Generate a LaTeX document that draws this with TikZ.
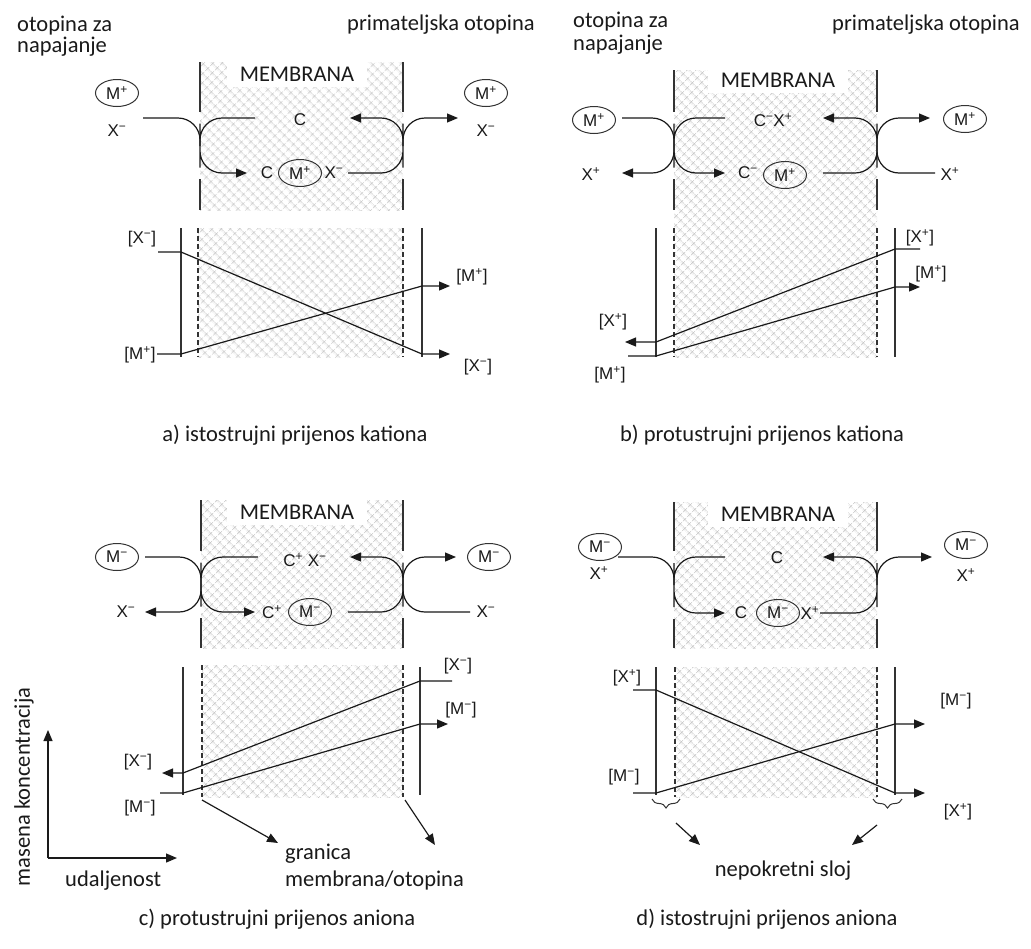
\documentclass[tikz,border=0pt]{standalone}
\usepackage{fontspec}
\setmainfont{Carlito}
\newfontfamily\chemfont{Liberation Sans}
\usetikzlibrary{arrows.meta,patterns.meta,decorations.pathreplacing,shapes.geometric}
\definecolor{color0}{HTML}{1A1A1A}
\definecolor{lineColor}{HTML}{333333}
\definecolor{hatchColor}{HTML}{BDBDBD}
\definecolor{bgColor}{HTML}{FFFFFF}

\begin{document}
\begin{tikzpicture}[x=1pt,y=-1pt]
\tikzset{
  lbl/.style={font=\fontsize{22.5}{24}\selectfont, inner sep=0pt, color=color0},
  chem/.style={font=\chemfont\fontsize{17}{17}\selectfont, inner sep=0pt, color=color0},
  ion/.style={chem, ellipse, draw=lineColor, line width=1pt, minimum width=43pt, minimum height=27pt},
  memlbl/.style={lbl, fill=bgColor, minimum width=140pt, minimum height=25pt},
  flow/.style={line width=1.2pt, draw=color0, rounded corners=22pt},
  conc/.style={line width=1.2pt, draw=color0},
  arrowed/.style={-{Triangle[length=11pt,width=9pt]}},
  wall/.style={line width=1.3pt, draw=lineColor},
  bound/.style={line width=1.2pt, draw=lineColor, dash pattern=on 5pt off 3pt},
  hatch/.style={pattern={Hatch[angle=45,distance=6.5pt,line width=0.6pt]}, pattern color=hatchColor},
  lbrace/.style={decorate, decoration={brace,mirror,amplitude=9pt}, line width=1pt, draw=lineColor}
}
\useasboundingbox (0,0) rectangle (1031,948);
\fill[bgColor] (0,0) rectangle (1031,948);

% ---------- a) istostrujni prijenos kationa
\node[lbl, anchor=base west] (feedA) at (17,31) {otopina za};
\node[lbl, anchor=base west] (feedAb) at (17,52) {napajanje};
\node[lbl, anchor=base west] (recvA) at (347,30) {primateljska otopina};
\fill[hatch] (200,62) rectangle (403,210);
\node[memlbl] (memA) at (297,74.5) {MEMBRANA};
\draw[wall] (200,62) -- (200,112) (200,179) -- (200,210);
\draw[wall] (403,62) -- (403,112) (403,179) -- (403,210);
\node[ion] (mA1) at (117,93) {M\textsuperscript{+}};
\node[chem] (xA1) at (117,131) {X\textsuperscript{−}};
\node[chem] (cA1) at (300,120) {C};
\node[chem] (cA2) at (267,173) {C};
\node[ion] (mA2) at (300,173) {M\textsuperscript{+}};
\node[chem] (xA2) at (334,173) {X\textsuperscript{−}};
\node[ion] (mA3) at (486,93) {M\textsuperscript{+}};
\node[chem] (xA3) at (486,131) {X\textsuperscript{−}};
\draw[flow] (143,118) -| (200,146);
\draw[flow, arrowed] (255,118) -| (200,145.5) |- (247,173);
\draw[flow, arrowed] (348,173) -| (403,145.5) |- (350,118);
\draw[flow, arrowed] (403,146) |- (458,118);
\fill[hatch] (198,228) rectangle (403,357);
\draw[wall] (181,228) -- (181,357) (422,228) -- (422,357);
\draw[bound] (198,228) -- (198,357) (403,228) -- (403,357);
\draw[conc, arrowed] (158,252) -- (181,252) -- (422,354) -- (450,354);
\draw[conc, arrowed] (157,354) -- (181,354) -- (422,286) -- (450,286);
\node[chem] (cxA1) at (142,239) {[X\textsuperscript{−}]};
\node[chem] (cmA1) at (140,355) {[M\textsuperscript{+}]};
\node[chem] (cmA2) at (472,277) {[M\textsuperscript{+}]};
\node[chem] (cxA2) at (478,367) {[X\textsuperscript{−}]};
\node[lbl, anchor=base] (capA) at (295,441) {a) istostrujni prijenos kationa};

% ---------- b) protustrujni prijenos kationa
\node[lbl, anchor=base west] (feedB) at (573,27) {otopina za};
\node[lbl, anchor=base west] (feedBb) at (573,50) {napajanje};
\node[lbl, anchor=base west] (recvB) at (832,30) {primateljska otopina};
\fill[hatch] (674,70) rectangle (877,357);
\node[memlbl] (memB) at (778,80) {MEMBRANA};
\draw[wall] (674,70) -- (674,112) (674,179) -- (674,210);
\draw[wall] (877,70) -- (877,112) (877,179) -- (877,210);
\node[ion] (mB1) at (594,120) {M\textsuperscript{+}};
\node[chem] (xB1) at (591,174) {X\textsuperscript{+}};
\node[chem] (cB1) at (773,120) {C\textsuperscript{−}X\textsuperscript{+}};
\node[chem] (cB2) at (748,173) {C\textsuperscript{−}};
\node[ion] (mB2) at (785,175) {M\textsuperscript{+}};
\node[ion] (mB3) at (965,119) {M\textsuperscript{+}};
\node[chem] (xB3) at (950,174) {X\textsuperscript{+}};
\draw[flow] (622,118) -| (674,146);
\draw[flow, arrowed] (674,146) |- (622,173);
\draw[flow, arrowed] (725,118) -| (674,145.5) |- (725,173);
\draw[flow, arrowed] (823,173) -| (877,145.5) |- (823,118);
\draw[flow, arrowed] (877,146) |- (930,118);
\draw[flow] (935,173) -| (877,146);
\draw[wall] (656,228) -- (656,357) (895,228) -- (895,357);
\draw[bound] (674,228) -- (674,357) (877,228) -- (877,357);
\draw[conc, arrowed] (920,249) -- (895,249) -- (656,342) -- (625,342);
\draw[conc, arrowed] (628,356) -- (656,356) -- (895,287) -- (920,287);
\node[chem] (cxB1) at (920,238) {[X\textsuperscript{+}]};
\node[chem] (cxB2) at (613,322) {[X\textsuperscript{+}]};
\node[chem] (cmB1) at (931,274) {[M\textsuperscript{+}]};
\node[chem] (cmB2) at (610,375) {[M\textsuperscript{+}]};
\node[lbl, anchor=base] (capB) at (762,441) {b) protustrujni prijenos kationa};

% ---------- c) protustrujni prijenos aniona
\fill[hatch] (201,500) rectangle (403,648);
\node[memlbl] (memC) at (297,512) {MEMBRANA};
\draw[wall] (201,500) -- (201,551) (201,618) -- (201,648);
\draw[wall] (403,500) -- (403,551) (403,618) -- (403,648);
\node[ion] (mC1) at (117,557) {M\textsuperscript{−}};
\node[chem] (xC1) at (126,612) {X\textsuperscript{−}};
\node[chem] (cC1) at (305,560) {C\textsuperscript{+} X\textsuperscript{−}};
\node[chem] (cC2) at (272,612) {C\textsuperscript{+}};
\node[ion] (mC2) at (310,612) {M\textsuperscript{−}};
\node[ion] (mC3) at (489,557) {M\textsuperscript{−}};
\node[chem] (xC3) at (486,612) {X\textsuperscript{−}};
\draw[flow] (145,557) -| (201,585);
\draw[flow, arrowed] (201,585) |- (145,612);
\draw[flow, arrowed] (258,557) -| (201,584.5) |- (255,612);
\draw[flow, arrowed] (348,612) -| (403,584.5) |- (350,557);
\draw[flow, arrowed] (403,585) |- (456,557);
\draw[flow] (470,612) -| (403,585);
\fill[hatch] (202,665) rectangle (403,797);
\draw[wall] (183,667) -- (183,795) (420,667) -- (420,795);
\draw[bound] (202,665) -- (202,797) (403,665) -- (403,797);
\draw[conc, arrowed] (452,681) -- (420,681) -- (183,773) -- (162,773);
\draw[conc, arrowed] (160,793) -- (183,793) -- (420,724) -- (448,724);
\node[chem] (cxC1) at (458,666) {[X\textsuperscript{−}]};
\node[chem] (cxC2) at (138,762) {[X\textsuperscript{−}]};
\node[chem] (cmC1) at (461,710) {[M\textsuperscript{−}]};
\node[chem] (cmC2) at (140,808) {[M\textsuperscript{−}]};
% os grafa
\coordinate (origin) at (48,858);
\coordinate (yend) at (48,730);
\coordinate (xend) at (177,858);
\draw[conc, arrowed] (origin) -- (yend);
\draw[conc, arrowed] (origin) -- (xend);
\node[lbl, rotate=90] (yaxis) at (24,787) {masena koncentracija};
\node[lbl, anchor=base west] (xaxis) at (65,886) {udaljenost};
\node[lbl, anchor=base west] (bndC) at (285,859) {granica};
\node[lbl, anchor=base west] (bndCb) at (285,886) {membrana/otopina};
\coordinate (bndL) at (202,800);
\coordinate (bndR) at (405,800);
\draw[conc, arrowed] (bndL) -- (278,843);
\draw[conc, arrowed] (bndR) -- (435,845);
\node[lbl, anchor=base] (capC) at (277,925) {c) protustrujni prijenos aniona};

% ---------- d) istostrujni prijenos aniona
\fill[hatch] (674,502) rectangle (877,648);
\node[memlbl] (memD) at (778,514) {MEMBRANA};
\draw[wall] (674,502) -- (674,551) (674,619) -- (674,648);
\draw[wall] (877,502) -- (877,551) (877,619) -- (877,648);
\node[ion] (mD1) at (600,547) {M\textsuperscript{−}};
\node[chem] (xD1) at (599,573) {X\textsuperscript{+}};
\node[chem] (cD1) at (777,558) {C};
\node[chem] (cD2) at (741,613) {C};
\node[ion] (mD2) at (778,613) {M\textsuperscript{−}};
\node[chem] (xD2) at (810,613) {X\textsuperscript{+}};
\node[ion] (mD3) at (966,545) {M\textsuperscript{−}};
\node[chem] (xD3) at (966,575) {X\textsuperscript{+}};
\draw[flow] (618,557) -| (674,585);
\draw[flow, arrowed] (725,557) -| (674,585) |- (725,613);
\draw[flow, arrowed] (820,613) -| (877,585) |- (823,557);
\draw[flow, arrowed] (877,585) |- (932,557);
\fill[hatch] (675,667) rectangle (877,797);
\draw[wall] (656,667) -- (656,795) (895,667) -- (895,795);
\draw[bound] (675,667) -- (675,797) (877,667) -- (877,797);
\draw[conc, arrowed] (633,690) -- (656,690) -- (895,793) -- (925,793);
\draw[conc, arrowed] (633,793) -- (656,793) -- (895,724) -- (925,724);
\node[chem] (cxD1) at (627,678) {[X\textsuperscript{+}]};
\node[chem] (cxD2) at (958,812) {[X\textsuperscript{+}]};
\node[chem] (cmD1) at (624,777) {[M\textsuperscript{−}]};
\node[chem] (cmD2) at (956,701) {[M\textsuperscript{−}]};
\draw[lbrace] (652,799) -- (680,799);
\draw[lbrace] (873,799) -- (902,799);
\node[lbl, anchor=base] (layD) at (783,876) {nepokretni sloj};
\coordinate (layL) at (676,823);
\coordinate (layR) at (877,825);
\draw[conc, arrowed] (layL) -- (700,845);
\draw[conc, arrowed] (layR) -- (852,845);
\node[lbl, anchor=base] (capD) at (767,925) {d) istostrujni prijenos aniona};
\end{tikzpicture}
\end{document}
